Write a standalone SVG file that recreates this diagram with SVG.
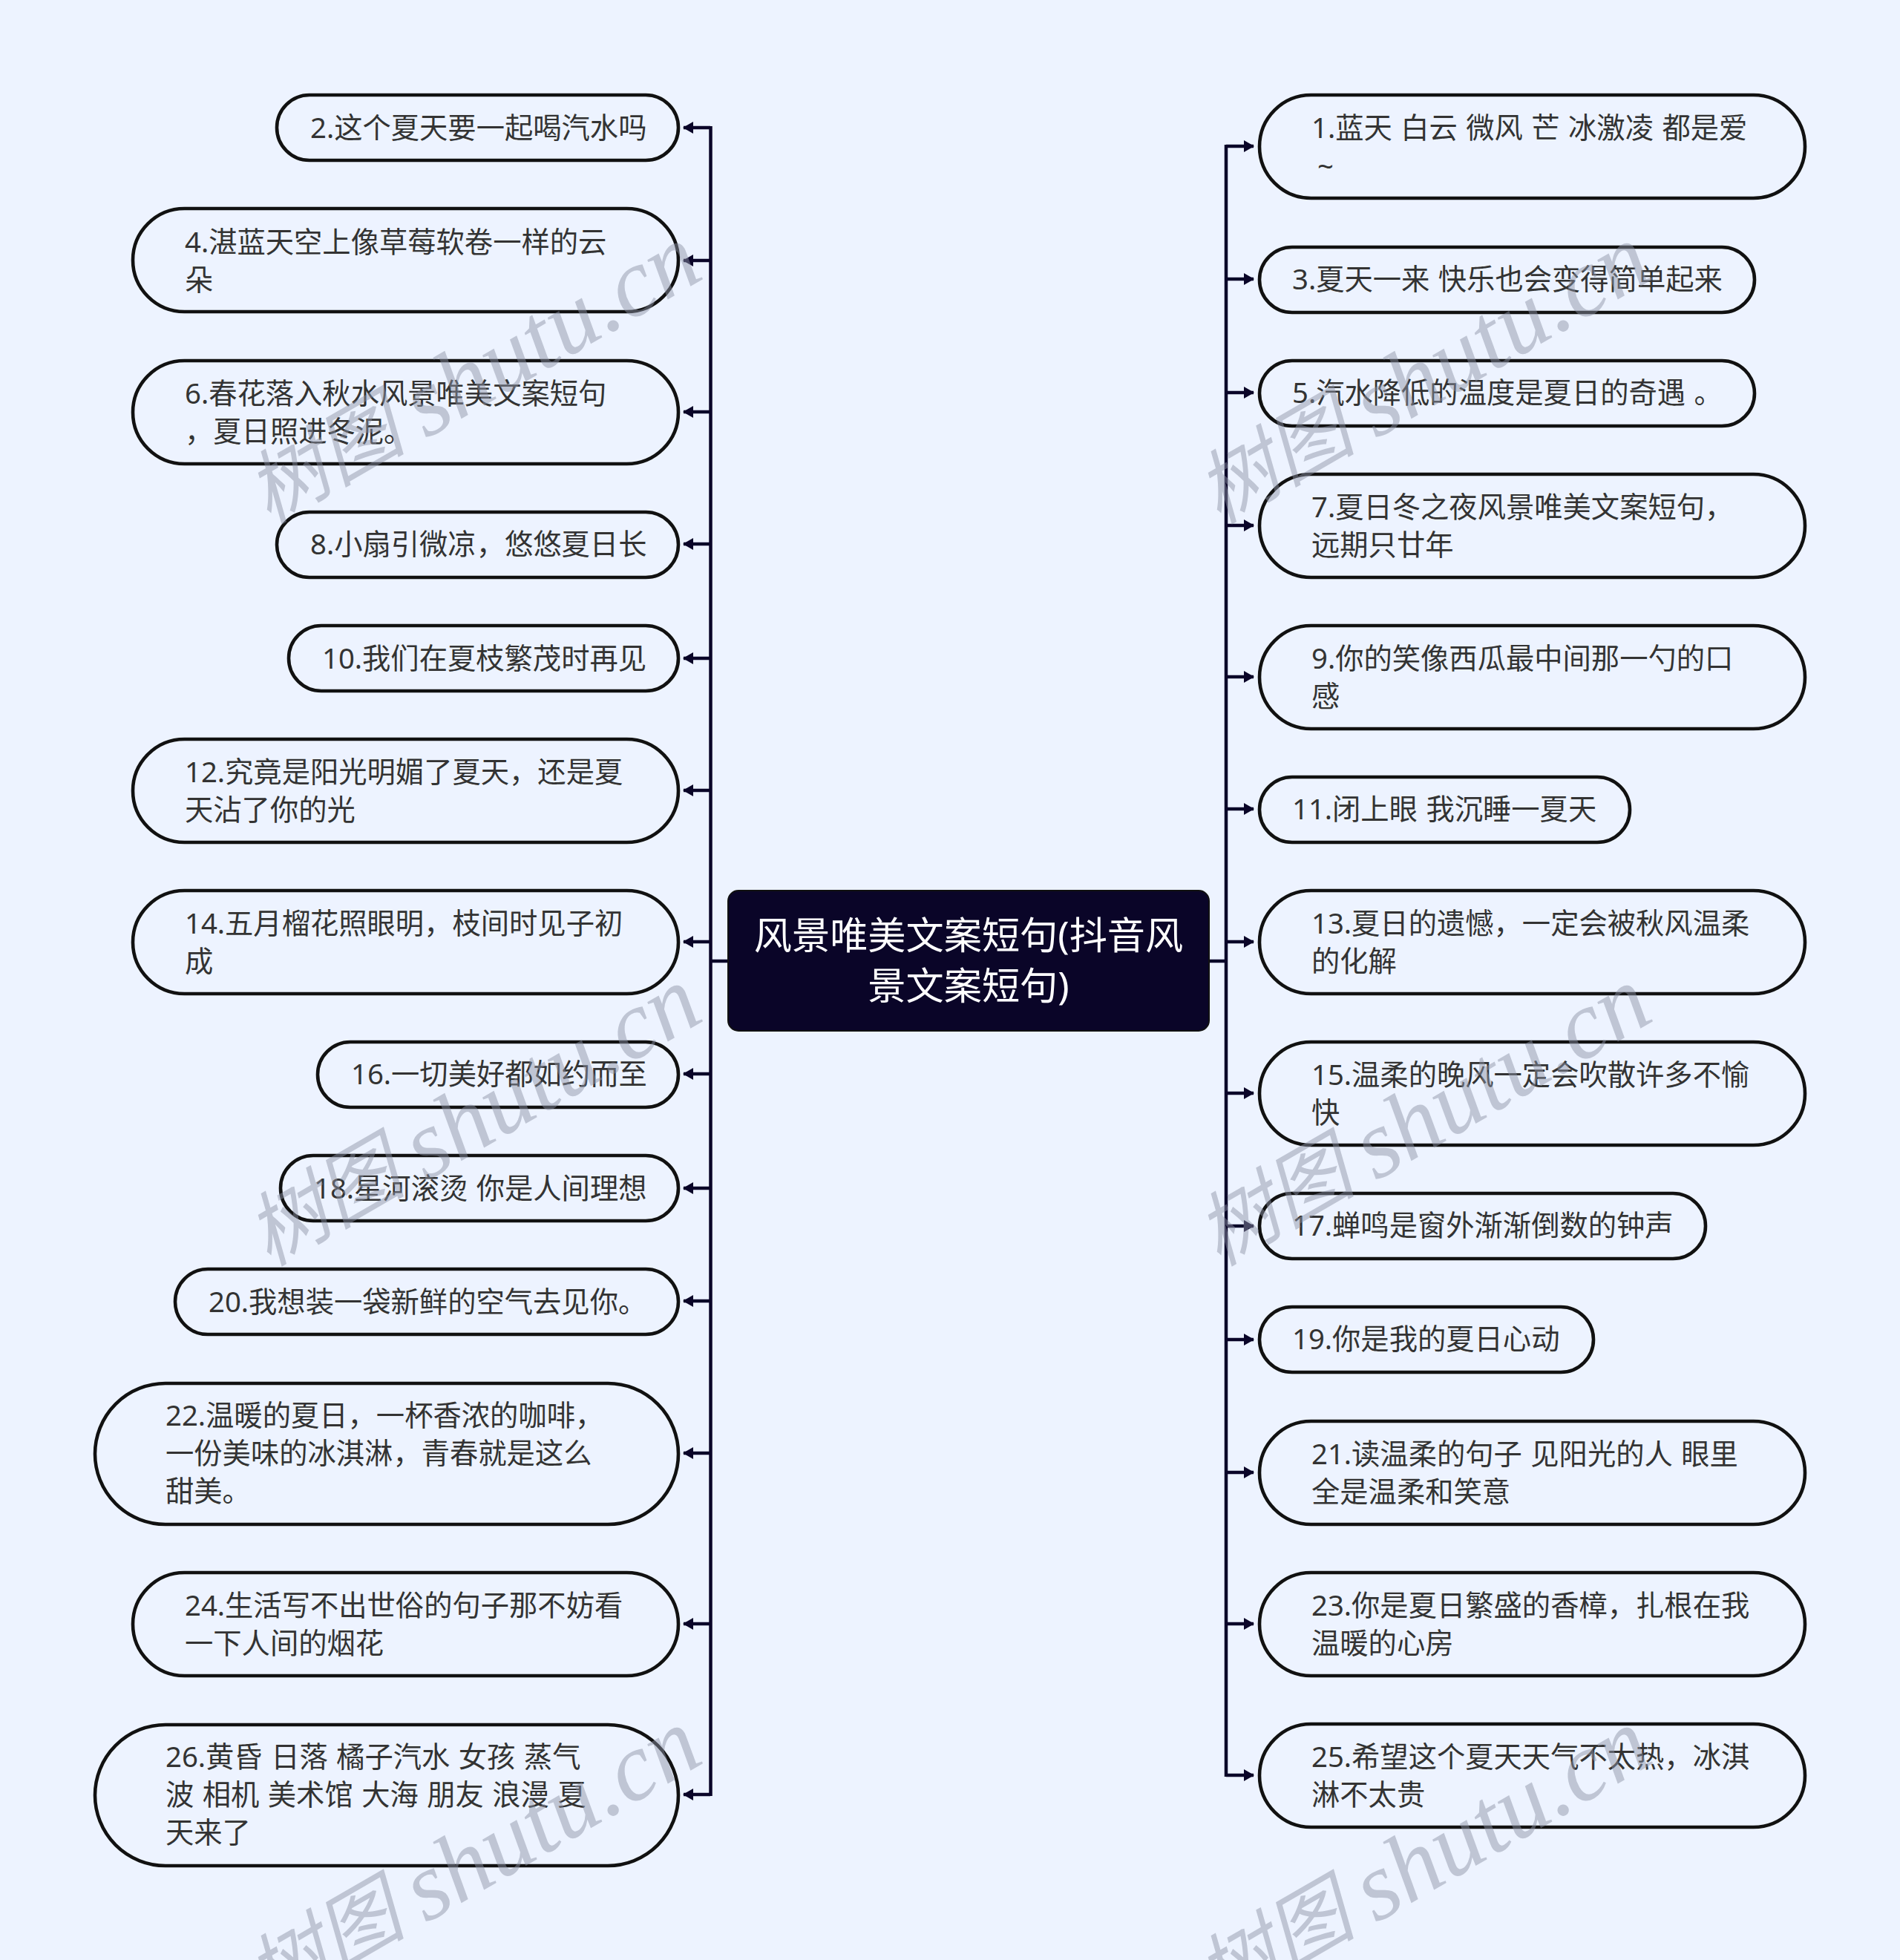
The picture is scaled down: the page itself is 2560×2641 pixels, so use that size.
<svg xmlns="http://www.w3.org/2000/svg" width="2560" height="2641" viewBox="0 0 2560 2641">
<style>
.n{fill:none;stroke:#111;stroke-width:4.6}
.t{font-family:"Noto Sans","Noto Sans CJK SC",sans-serif;font-size:38.3px;word-spacing:1.5px;fill:#333}
.c{font-family:"Noto Sans","Noto Sans CJK SC",sans-serif;font-size:51.2px;fill:#fff;text-anchor:middle}
.l{fill:none;stroke:#0a0528;stroke-width:4.5;marker-end:url(#a)}
.s{fill:none;stroke:#0a0528;stroke-width:4.5}
.w{font-family:"Liberation Serif","Noto Sans CJK SC",serif;font-style:italic;font-size:130px;fill:#8c93a6;fill-opacity:.48}
.w .h{font-size:108px}
.w .g{font-size:100px}
</style>
<defs><marker id="a" markerUnits="userSpaceOnUse" markerWidth="14" markerHeight="16" refX="13" refY="8" orient="auto"><path d="M0 0L14 8L0 16Z" fill="#0a0528"/></marker></defs>
<rect width="2560" height="2641" fill="#edf3ff"/>
<g id="connectors">
<path class="s" d="M980 1295H957.500M957.500 170V2420M1630 1295H1652M1652 195V2394"/>
<path class="l" d="M957 172H921"/><path class="l" d="M957 351H921"/><path class="l" d="M957 555H921"/><path class="l" d="M957 733H921"/><path class="l" d="M957 887H921"/><path class="l" d="M957 1065H921"/><path class="l" d="M957 1269H921"/><path class="l" d="M957 1447H921"/><path class="l" d="M957 1601H921"/><path class="l" d="M957 1753H921"/><path class="l" d="M957 1958H921"/><path class="l" d="M957 2188H921"/><path class="l" d="M957 2418H921"/>
<path class="l" d="M1652 197H1689"/><path class="l" d="M1652 376H1689"/><path class="l" d="M1652 529H1689"/><path class="l" d="M1652 708H1689"/><path class="l" d="M1652 912H1689"/><path class="l" d="M1652 1090H1689"/><path class="l" d="M1652 1269H1689"/><path class="l" d="M1652 1473H1689"/><path class="l" d="M1652 1652H1689"/><path class="l" d="M1652 1805H1689"/><path class="l" d="M1652 1984H1689"/><path class="l" d="M1652 2188H1689"/><path class="l" d="M1652 2392H1689"/>
</g>
<g id="root"><rect x="981" y="1200" width="648" height="189" rx="14" fill="#0a0528" stroke="#111" stroke-width="2"/><text class="c" x="1305" y="1279">风景唯美文案短句(抖音风</text><text class="c" x="1305" y="1347">景文案短句)</text></g>
<g id="n2"><rect class="n" x="373" y="128" width="541" height="88" rx="44"/><text class="t" x="418" y="186">2.这个夏天要一起喝汽水吗</text></g>
<g id="n4"><rect class="n" x="179" y="281" width="735" height="139" rx="69.500"/><text class="t" x="249" y="340">4.湛蓝天空上像草莓软卷一样的云</text><text class="t" x="249" y="391">朵</text></g>
<g id="n6"><rect class="n" x="179" y="486" width="735" height="139" rx="69.500"/><text class="t" x="249" y="544">6.春花落入秋水风景唯美文案短句</text><text class="t" x="249" y="595">，夏日照进冬泥。</text></g>
<g id="n8"><rect class="n" x="373" y="690" width="541" height="88" rx="44"/><text class="t" x="418" y="747">8.小扇引微凉，悠悠夏日长</text></g>
<g id="n10"><rect class="n" x="389" y="843" width="525" height="88" rx="44"/><text class="t" x="434" y="901">10.我们在夏枝繁茂时再见</text></g>
<g id="n12"><rect class="n" x="179" y="996" width="735" height="139" rx="69.500"/><text class="t" x="249" y="1054">12.究竟是阳光明媚了夏天，还是夏</text><text class="t" x="249" y="1105">天沾了你的光</text></g>
<g id="n14"><rect class="n" x="179" y="1200" width="735" height="139" rx="69.500"/><text class="t" x="249" y="1258">14.五月榴花照眼明，枝间时见子初</text><text class="t" x="249" y="1309">成</text></g>
<g id="n16"><rect class="n" x="428" y="1404" width="486" height="88" rx="44"/><text class="t" x="473" y="1461">16.一切美好都如约而至</text></g>
<g id="n18"><rect class="n" x="378" y="1557" width="536" height="88" rx="44"/><text class="t" x="423" y="1615">18.星河滚烫 你是人间理想</text></g>
<g id="n20"><rect class="n" x="236" y="1710" width="678" height="88" rx="44"/><text class="t" x="281" y="1768">20.我想装一袋新鲜的空气去见你。</text></g>
<g id="n22"><rect class="n" x="128" y="1864" width="786" height="190" rx="95"/><text class="t" x="223" y="1921">22.温暖的夏日，一杯香浓的咖啡，</text><text class="t" x="223" y="1972">一份美味的冰淇淋，青春就是这么</text><text class="t" x="223" y="2023">甜美。</text></g>
<g id="n24"><rect class="n" x="179" y="2119" width="735" height="139" rx="69.500"/><text class="t" x="249" y="2177">24.生活写不出世俗的句子那不妨看</text><text class="t" x="249" y="2228">一下人间的烟花</text></g>
<g id="n26"><rect class="n" x="128" y="2324" width="786" height="190" rx="95"/><text class="t" x="223" y="2381">26.黄昏 日落 橘子汽水 女孩 蒸气</text><text class="t" x="223" y="2432">波 相机 美术馆 大海 朋友 浪漫 夏</text><text class="t" x="223" y="2483">天来了</text></g>
<g id="n1"><rect class="n" x="1697" y="128" width="735" height="139" rx="69.500"/><text class="t" x="1767" y="186">1.蓝天 白云 微风 芒 冰激凌 都是爱</text><text class="t" x="1775" y="238">~</text></g>
<g id="n3"><rect class="n" x="1697" y="333" width="667" height="88" rx="44"/><text class="t" x="1741" y="390">3.夏天一来 快乐也会变得简单起来</text></g>
<g id="n5"><rect class="n" x="1697" y="486" width="667" height="88" rx="44"/><text class="t" x="1741" y="543">5.汽水降低的温度是夏日的奇遇 。</text></g>
<g id="n7"><rect class="n" x="1697" y="639" width="735" height="139" rx="69.500"/><text class="t" x="1767" y="697">7.夏日冬之夜风景唯美文案短句，</text><text class="t" x="1767" y="748">远期只廿年</text></g>
<g id="n9"><rect class="n" x="1697" y="843" width="735" height="139" rx="69.500"/><text class="t" x="1767" y="901">9.你的笑像西瓜最中间那一勺的口</text><text class="t" x="1767" y="952">感</text></g>
<g id="n11"><rect class="n" x="1697" y="1047" width="499" height="88" rx="44"/><text class="t" x="1741" y="1104">11.闭上眼 我沉睡一夏天</text></g>
<g id="n13"><rect class="n" x="1697" y="1200" width="735" height="139" rx="69.500"/><text class="t" x="1767" y="1258">13.夏日的遗憾，一定会被秋风温柔</text><text class="t" x="1767" y="1309">的化解</text></g>
<g id="n15"><rect class="n" x="1697" y="1404" width="735" height="139" rx="69.500"/><text class="t" x="1767" y="1462">15.温柔的晚风一定会吹散许多不愉</text><text class="t" x="1767" y="1513">快</text></g>
<g id="n17"><rect class="n" x="1697" y="1608" width="601" height="88" rx="44"/><text class="t" x="1741" y="1665">17.蝉鸣是窗外渐渐倒数的钟声</text></g>
<g id="n19"><rect class="n" x="1697" y="1761" width="450" height="88" rx="44"/><text class="t" x="1741" y="1818">19.你是我的夏日心动</text></g>
<g id="n21"><rect class="n" x="1697" y="1915" width="735" height="139" rx="69.500"/><text class="t" x="1767" y="1973">21.读温柔的句子 见阳光的人 眼里</text><text class="t" x="1767" y="2024">全是温柔和笑意</text></g>
<g id="n23"><rect class="n" x="1697" y="2119" width="735" height="139" rx="69.500"/><text class="t" x="1767" y="2177">23.你是夏日繁盛的香樟，扎根在我</text><text class="t" x="1767" y="2228">温暖的心房</text></g>
<g id="n25"><rect class="n" x="1697" y="2323" width="735" height="139" rx="69.500"/><text class="t" x="1767" y="2381">25.希望这个夏天天气不太热，冰淇</text><text class="t" x="1767" y="2432">淋不太贵</text></g>
<g id="watermarks">
<text class="w" transform="translate(362 707) rotate(-30)"><tspan class="h">树图</tspan><tspan class="g"> </tspan><tspan dy="6">shutu.cn</tspan></text>
<text class="w" transform="translate(1642 707) rotate(-30)"><tspan class="h">树图</tspan><tspan class="g"> </tspan><tspan dy="6">shutu.cn</tspan></text>
<text class="w" transform="translate(362 1707) rotate(-30)"><tspan class="h">树图</tspan><tspan class="g"> </tspan><tspan dy="6">shutu.cn</tspan></text>
<text class="w" transform="translate(1642 1707) rotate(-30)"><tspan class="h">树图</tspan><tspan class="g"> </tspan><tspan dy="6">shutu.cn</tspan></text>
<text class="w" transform="translate(362 2707) rotate(-30)"><tspan class="h">树图</tspan><tspan class="g"> </tspan><tspan dy="6">shutu.cn</tspan></text>
<text class="w" transform="translate(1642 2707) rotate(-30)"><tspan class="h">树图</tspan><tspan class="g"> </tspan><tspan dy="6">shutu.cn</tspan></text>
</g>
</svg>
